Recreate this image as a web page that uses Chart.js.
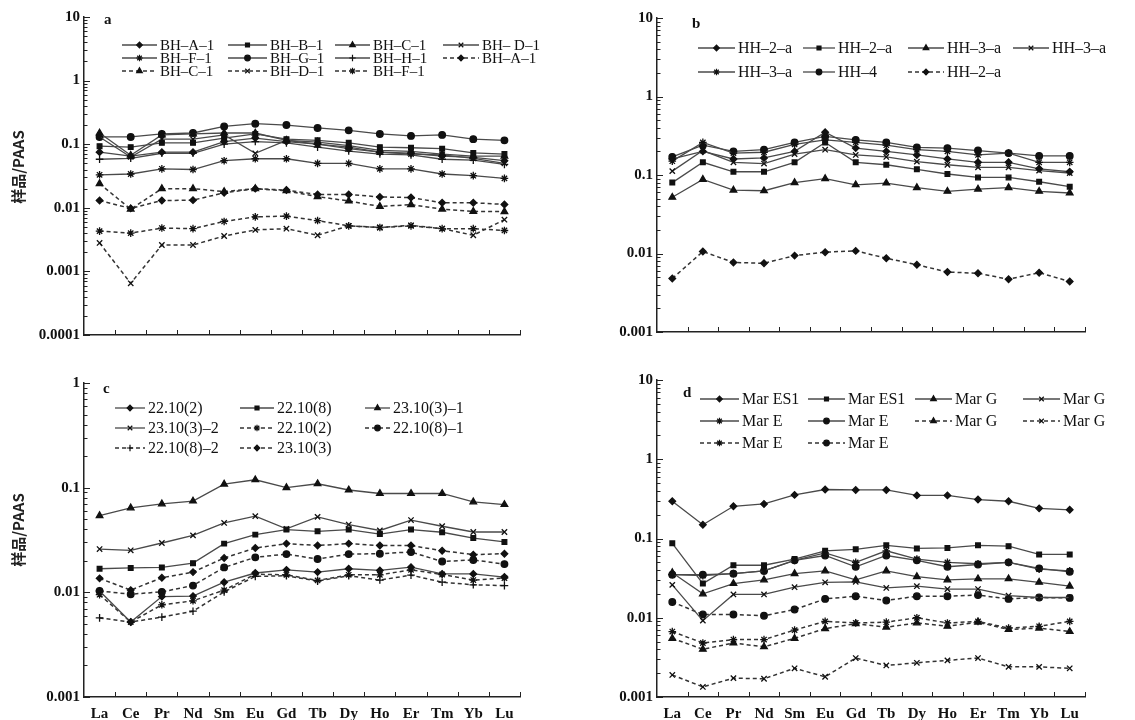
<!DOCTYPE html>
<html>
<head>
<meta charset="utf-8">
<script src="https://cdn.jsdelivr.net/npm/chart.js@4.4.1/dist/chart.umd.min.js"></script>
<style>
  body { margin: 0; background: #fff; }
  #wrap { position: relative; width: 1135px; height: 720px; background: #fff; }
  canvas { position: absolute; }
</style>
</head>
<body>
<div id="wrap">
  <canvas id="chartA" width="565" height="360" style="left:0;top:0"></canvas>
  <canvas id="chartB" width="570" height="360" style="left:565px;top:0"></canvas>
  <canvas id="chartC" width="565" height="360" style="left:0;top:360px"></canvas>
  <canvas id="chartD" width="570" height="360" style="left:565px;top:360px"></canvas>
</div>
<script>
const elements = ['La', 'Ce', 'Pr', 'Nd', 'Sm', 'Eu', 'Gd', 'Tb', 'Dy', 'Ho', 'Er', 'Tm', 'Yb', 'Lu'];

const ticksA = [0.0001, 0.001, 0.01, 0.1, 1, 10];
const ticksB = [0.001, 0.01, 0.1, 1, 10];
const ticksC = [0.001, 0.01, 0.1, 1];
const ticksD = [0.001, 0.01, 0.1, 1, 10];

// panel a
const labelsA = ['BH–A–1', 'BH–B–1', 'BH–C–1', 'BH– D–1', 'BH–F–1', 'BH–G–1', 'BH–H–1', 'BH–A–1', 'BH–C–1', 'BH–D–1', 'BH–F–1'];
const bhA1 = [0.075, 0.065, 0.075, 0.075, 0.11, 0.125, 0.11, 0.1, 0.085, 0.075, 0.072, 0.065, 0.062, 0.055];
const bhB1 = [0.093, 0.09, 0.105, 0.105, 0.125, 0.145, 0.12, 0.115, 0.105, 0.09, 0.088, 0.085, 0.073, 0.07];
const bhC1 = [0.15, 0.067, 0.14, 0.145, 0.15, 0.15, 0.115, 0.108, 0.095, 0.08, 0.077, 0.07, 0.065, 0.065];
const bhD1 = [0.13, 0.063, 0.12, 0.12, 0.14, 0.072, 0.115, 0.1, 0.09, 0.075, 0.07, 0.068, 0.06, 0.05];
const bhF1 = [0.033, 0.034, 0.041, 0.04, 0.055, 0.059, 0.059, 0.05, 0.05, 0.041, 0.041, 0.034, 0.032, 0.029];
const bhG1 = [0.13, 0.13, 0.145, 0.15, 0.19, 0.21, 0.2, 0.18, 0.165, 0.145, 0.135, 0.14, 0.12, 0.115];
const bhH1 = [0.058, 0.06, 0.072, 0.072, 0.1, 0.11, 0.105, 0.09, 0.078, 0.07, 0.068, 0.058, 0.056, 0.048];
const bhA1b = [0.013, 0.0098, 0.013, 0.0132, 0.0172, 0.02, 0.019, 0.0162, 0.0162, 0.0148, 0.0145, 0.012, 0.012, 0.0113];
const bhC1b = [0.024, 0.0095, 0.02, 0.02, 0.018, 0.02, 0.0185, 0.015, 0.0128, 0.0105, 0.0112, 0.0095, 0.0088, 0.0087];
const bhD1b = [0.0028, 0.00065, 0.0026, 0.0026, 0.0036, 0.0045, 0.0047, 0.0037, 0.0052, 0.0049, 0.0053, 0.0047, 0.0037, 0.0065];
const bhF1b = [0.0043, 0.004, 0.0048, 0.0047, 0.0061, 0.0072, 0.0074, 0.0063, 0.0052, 0.0049, 0.0052, 0.0047, 0.0047, 0.0044];

// panel b
const labelsB = ['HH–2–a', 'HH–2–a', 'HH–3–a', 'HH–3–a', 'HH–3–a', 'HH–4', 'HH–2–a'];
const hh2a = [0.16, 0.2, 0.16, 0.165, 0.2, 0.35, 0.22, 0.2, 0.18, 0.16, 0.145, 0.145, 0.12, 0.11];
const hh2b = [0.08, 0.145, 0.11, 0.11, 0.145, 0.26, 0.145, 0.135, 0.118, 0.103, 0.093, 0.093, 0.082, 0.071];
const hh3a = [0.052, 0.088, 0.064, 0.063, 0.08, 0.09, 0.075, 0.079, 0.069, 0.062, 0.066, 0.069, 0.062, 0.059];
const hh3b = [0.112, 0.205, 0.145, 0.14, 0.185, 0.21, 0.18, 0.17, 0.148, 0.135, 0.125, 0.125, 0.114, 0.106];
const hh3c = [0.15, 0.26, 0.19, 0.195, 0.245, 0.28, 0.26, 0.24, 0.21, 0.2, 0.18, 0.19, 0.145, 0.145];
const hh4 = [0.17, 0.24, 0.2, 0.21, 0.26, 0.31, 0.28, 0.26, 0.225, 0.22, 0.205, 0.19, 0.175, 0.175];
const hh2c = [0.0048, 0.0106, 0.0077, 0.0075, 0.0094, 0.0104, 0.0108, 0.0087, 0.0072, 0.0058, 0.0056, 0.0047, 0.0057, 0.0044];

// panel c
const labelsC = ['22.10(2)', '22.10(8)', '23.10(3)–1', '23.10(3)–2', '22.10(2)', '22.10(8)–1', '22.10(8)–2', '23.10(3)'];
const s2210_2 = [0.0103, 0.0052, 0.0091, 0.0092, 0.0125, 0.0153, 0.0164, 0.0156, 0.0168, 0.0162, 0.0174, 0.015, 0.015, 0.014];
const s2210_8 = [0.0168, 0.0171, 0.0173, 0.019, 0.0292, 0.0356, 0.0398, 0.0383, 0.0398, 0.036, 0.0398, 0.0375, 0.033, 0.0303];
const s2310_3_1 = [0.054, 0.064, 0.07, 0.0745, 0.108, 0.119, 0.1, 0.109, 0.095, 0.088, 0.088, 0.088, 0.073, 0.069];
const s2310_3_2 = [0.0259, 0.0252, 0.0296, 0.035, 0.046, 0.0534, 0.0404, 0.0526, 0.0444, 0.039, 0.049, 0.0428, 0.0377, 0.0377];
const s2210_2b = [0.0095, 0.0052, 0.0076, 0.0083, 0.0105, 0.0149, 0.0147, 0.013, 0.0147, 0.0147, 0.0164, 0.0148, 0.0131, 0.0137];
const s2210_8_1 = [0.0103, 0.0096, 0.0101, 0.0116, 0.0173, 0.0216, 0.0232, 0.0208, 0.0232, 0.0234, 0.0243, 0.0197, 0.0204, 0.0186];
const s2210_8_2 = [0.0057, 0.0052, 0.0058, 0.0066, 0.0101, 0.0142, 0.0144, 0.0128, 0.0144, 0.0131, 0.0146, 0.0125, 0.0118, 0.0116];
const s2310_3 = [0.0136, 0.0105, 0.0138, 0.0156, 0.0213, 0.0265, 0.0292, 0.028, 0.0292, 0.028, 0.028, 0.025, 0.0229, 0.0234];

// panel d
const labelsD = ['Mar ES1', 'Mar ES1', 'Mar G', 'Mar G', 'Mar E', 'Mar E', 'Mar G', 'Mar G', 'Mar E', 'Mar E'];
const marES1a = [0.295, 0.149, 0.255, 0.273, 0.355, 0.415, 0.41, 0.41, 0.35, 0.35, 0.31, 0.295, 0.24, 0.23];
const marES1b = [0.087, 0.027, 0.046, 0.046, 0.055, 0.07, 0.073, 0.082, 0.075, 0.076, 0.082, 0.08, 0.063, 0.063];
const marGa = [0.037, 0.02, 0.027, 0.03, 0.036, 0.039, 0.03, 0.039, 0.033, 0.03, 0.031, 0.031, 0.028, 0.025];
const marGb = [0.026, 0.0092, 0.0197, 0.0197, 0.0243, 0.028, 0.0284, 0.0238, 0.025, 0.023, 0.023, 0.019, 0.018, 0.018];
const marEa = [0.035, 0.034, 0.036, 0.039, 0.053, 0.066, 0.05, 0.07, 0.055, 0.05, 0.048, 0.05, 0.041, 0.039];
const marEb = [0.035, 0.035, 0.036, 0.039, 0.053, 0.061, 0.044, 0.061, 0.053, 0.044, 0.047, 0.05, 0.042, 0.038];
const marGc = [0.0055, 0.004, 0.0048, 0.0043, 0.0055, 0.0073, 0.0084, 0.0076, 0.0086, 0.0078, 0.0088, 0.0071, 0.0074, 0.0067];
const marGd = [0.0019, 0.00134, 0.00173, 0.0017, 0.0023, 0.0018, 0.0031, 0.0025, 0.0027, 0.0029, 0.0031, 0.0024, 0.0024, 0.0023];
const marEc = [0.0067, 0.0048, 0.0053, 0.0053, 0.007, 0.009, 0.0086, 0.0088, 0.01, 0.0086, 0.009, 0.0074, 0.0078, 0.009];
const marEd = [0.0158, 0.011, 0.011, 0.0106, 0.0127, 0.0173, 0.0187, 0.0165, 0.0187, 0.0187, 0.0193, 0.0173, 0.018, 0.0178];

const serif = '"Liberation Serif", "DejaVu Serif", serif';

function markSize(style) {
  if (style === 'rect' || style === 'circle' || style === 'rectRot') return 3.3;
  return 3.8;
}

function buildDatasets(labels, series, marks, dashed) {
  return series.map((d, i) => ({
    label: labels[i],
    data: d,
    pointStyle: marks[i],
    pointRadius: markSize(marks[i]),
    pointBackgroundColor: '#111',
    pointBorderColor: '#111',
    pointBorderWidth: 1.3,
    borderColor: dashed[i] ? '#333' : '#4a4a4a',
    borderWidth: dashed[i] ? 1.5 : 1.3,
    borderDash: dashed[i] ? [4, 3] : [],
    fill: false,
    tension: 0,
  }));
}

// inward ticks, panel letter, legend and y title
const panelDeco = {
  id: 'panelDeco',
  afterDraw(chart, args, opts) {
    const ctx = chart.ctx;
    const xs = chart.scales.x;
    const ys = chart.scales.y;
    const area = chart.chartArea;
    ctx.save();
    ctx.strokeStyle = '#222';
    ctx.lineWidth = 1;
    const lo = Math.round(Math.log10(ys.min));
    const hi = Math.round(Math.log10(ys.max));
    for (let e = lo; e <= hi; e++) {
      for (let k = 1; k <= 9; k++) {
        const v = k * Math.pow(10, e);
        if (v > ys.max * 1.0001) break;
        const py = Math.round(ys.getPixelForValue(v)) + 0.5;
        ctx.beginPath();
        ctx.moveTo(area.left, py);
        ctx.lineTo(area.left + (k === 1 ? 6 : 3.5), py);
        ctx.stroke();
      }
    }
    const step = xs.getPixelForValue(1) - xs.getPixelForValue(0);
    for (let i = 1; i <= elements.length; i++) {
      const px = Math.round(xs.getPixelForValue(0) - step / 2 + i * step) + 0.5;
      ctx.beginPath();
      ctx.moveTo(px, area.bottom);
      ctx.lineTo(px, area.bottom - 5);
      ctx.stroke();
    }

    ctx.fillStyle = '#111';
    ctx.font = 'bold 15px ' + serif;
    ctx.textBaseline = 'middle';
    ctx.textAlign = 'left';
    ctx.fillText(opts.letter, opts.letterX, opts.letterY);

    ctx.font = opts.legendFont;
    chart.data.datasets.forEach((ds, i) => {
      const col = i % opts.lineX.length;
      const row = Math.floor(i / opts.lineX.length);
      const lx = opts.lineX[col];
      const ly = opts.rowY[row];
      const lw = opts.textX[col] - lx - 3;
      ctx.strokeStyle = ds.borderColor;
      ctx.lineWidth = ds.borderWidth;
      ctx.setLineDash(ds.borderDash);
      ctx.beginPath();
      ctx.moveTo(lx, ly);
      ctx.lineTo(lx + lw, ly);
      ctx.stroke();
      ctx.setLineDash([]);
      ctx.fillStyle = '#111';
      ctx.strokeStyle = '#111';
      ctx.lineWidth = 1.2;
      Chart.helpers.drawPoint(ctx, {
        pointStyle: ds.pointStyle,
        radius: ds.pointRadius * 0.85,
        borderWidth: 1.2,
        rotation: 0,
      }, lx + lw / 2, ly);
      ctx.fillStyle = '#111';
      ctx.fillText(ds.label, opts.textX[col], ly + 1);
    });

    if (opts.yTitle) {
      ctx.save();
      ctx.translate(opts.titleX, opts.titleY);
      ctx.rotate(-Math.PI / 2);
      ctx.textAlign = 'center';
      ctx.font = 'bold 15px "Noto Sans CJK SC", sans-serif';
      ctx.fillStyle = '#222';
      ctx.fillText(opts.yTitle, 0, 0);
      ctx.restore();
    }
    ctx.restore();
  },
};

function makePanel(id, datasets, yTicks, cfg) {
  const ctx = document.getElementById(id).getContext('2d');
  return new Chart(ctx, {
    type: 'line',
    data: { labels: elements, datasets },
    options: {
      responsive: false,
      animation: false,
      layout: { padding: { top: cfg.top, right: cfg.right, left: 0, bottom: 0 } },
      plugins: {
        legend: { display: false },
        tooltip: { enabled: false },
        panelDeco: cfg.deco,
      },
      scales: {
        x: {
          offset: true,
          grid: { display: false, drawTicks: false },
          border: { color: '#222', width: 1.5 },
          ticks: {
            display: cfg.showX,
            color: '#111',
            padding: 8,
            maxRotation: 0,
            autoSkip: false,
            font: { family: serif, size: 15, weight: 'bold' },
          },
          afterFit: (s) => { s.height = cfg.xH; },
        },
        y: {
          type: 'logarithmic',
          min: yTicks[0],
          max: yTicks[yTicks.length - 1],
          grid: { display: false, drawTicks: false },
          border: { color: '#222', width: 1.5 },
          afterBuildTicks: (s) => { s.ticks = yTicks.map((v) => ({ value: v })); },
          ticks: {
            color: '#111',
            padding: 4,
            autoSkip: false,
            font: { family: serif, size: 15, weight: 'bold' },
            callback: (v) => String(v),
          },
          afterFit: (s) => { s.width = cfg.yW; },
        },
      },
    },
    plugins: [panelDeco],
  });
}

makePanel('chartA',
  buildDatasets(labelsA,
    [bhA1, bhB1, bhC1, bhD1, bhF1, bhG1, bhH1, bhA1b, bhC1b, bhD1b, bhF1b],
    ['rectRot', 'rect', 'triangle', 'crossRot', 'star', 'circle', 'cross', 'rectRot', 'triangle', 'crossRot', 'star'],
    [false, false, false, false, false, false, false, true, true, true, true]),
  ticksA,
  { top: 17, right: 45, yW: 84, xH: 25, showX: false,
    deco: { letter: 'a', letterX: 104, letterY: 20, legendFont: '15px ' + serif,
      lineX: [122, 228, 335, 443], textX: [160, 270, 373, 482], rowY: [45, 58, 71],
      yTitle: '样品/PAAS', titleX: 18, titleY: 167 } });

makePanel('chartB',
  buildDatasets(labelsB,
    [hh2a, hh2b, hh3a, hh3b, hh3c, hh4, hh2c],
    ['rectRot', 'rect', 'triangle', 'crossRot', 'star', 'circle', 'rectRot'],
    [false, false, false, false, false, false, true]),
  ticksB,
  { top: 18, right: 50, yW: 92, xH: 28, showX: false,
    deco: { letter: 'b', letterX: 127, letterY: 24, legendFont: '16px ' + serif,
      lineX: [133, 238, 343, 448], textX: [173, 273, 382, 487], rowY: [48, 72] } });

makePanel('chartC',
  buildDatasets(labelsC,
    [s2210_2, s2210_8, s2310_3_1, s2310_3_2, s2210_2b, s2210_8_1, s2210_8_2, s2310_3],
    ['rectRot', 'rect', 'triangle', 'crossRot', 'star', 'circle', 'cross', 'rectRot'],
    [false, false, false, false, true, true, true, true]),
  ticksC,
  { top: 23, right: 45, yW: 84, xH: 23, showX: true,
    deco: { letter: 'c', letterX: 103, letterY: 29, legendFont: '16px ' + serif,
      lineX: [115, 240, 365], textX: [148, 277, 393], rowY: [48, 68, 88],
      yTitle: '样品/PAAS', titleX: 18, titleY: 170 } });

makePanel('chartD',
  buildDatasets(labelsD,
    [marES1a, marES1b, marGa, marGb, marEa, marEb, marGc, marGd, marEc, marEd],
    ['rectRot', 'rect', 'triangle', 'crossRot', 'star', 'circle', 'triangle', 'crossRot', 'star', 'circle'],
    [false, false, false, false, false, false, true, true, true, true]),
  ticksD,
  { top: 20, right: 50, yW: 92, xH: 23, showX: true,
    deco: { letter: 'd', letterX: 118, letterY: 33, legendFont: '16px ' + serif,
      lineX: [135, 243, 350, 458], textX: [177, 283, 390, 498], rowY: [39, 61, 83] } });
</script>
</body>
</html>
